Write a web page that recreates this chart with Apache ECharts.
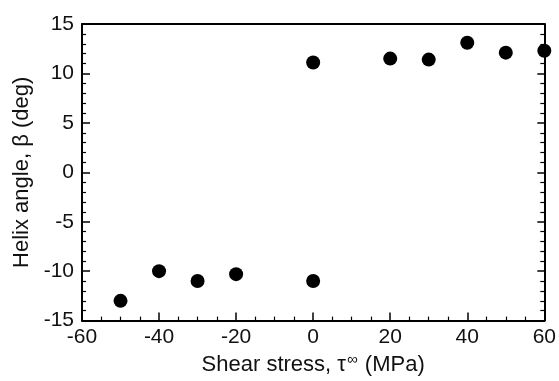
<!DOCTYPE html>
<html>
<head>
<meta charset="utf-8">
<script src="https://cdn.jsdelivr.net/npm/echarts@6/dist/echarts.min.js"></script>
<style>
  html, body { margin: 0; padding: 0; background: #fff; }
  #chart { width: 559px; height: 381px; }
</style>
</head>
<body>
<div id="chart"></div>
<script>
// shear stress (MPa) vs helix angle (deg)
const shearStress = [-50, -40, -30, -20, 0, 0, 20, 30, 40, 50, 60];
const helixAngle = [-13, -10, -11, -10.3, -11, 11.1, 11.5, 11.4, 13.1, 12.1, 12.3];

const points = shearStress.map((x, i) => [x, helixAngle[i]]);

const fontFamily = "'Liberation Sans', Arial, sans-serif";
const ink = "#000";
const textInk = "#111";

const chart = echarts.init(document.getElementById("chart"));
chart.setOption({
  animation: false,
  backgroundColor: "#fff",
  grid: { left: 82, right: 13, top: 24, bottom: 57 },
  xAxis: [
    {
      type: "value",
      min: -60,
      max: 60,
      interval: 20,
      position: "bottom",
      name: "Shear stress, τ{sup|∞} (MPa)",
      nameLocation: "middle",
      nameGap: 30,
      nameTextStyle: {
        color: textInk,
        fontFamily,
        fontSize: 22,
        rich: {
          sup: { fontSize: 15, verticalAlign: "top", padding: [0, 1, 10, 1], color: textInk, fontFamily },
        },
      },
      axisLine: { onZero: false, lineStyle: { color: ink, width: 2 } },
      axisTick: { inside: true, length: 8, lineStyle: { color: ink, width: 1.5 } },
      minorTick: { show: true, splitNumber: 4, length: 4, lineStyle: { color: ink, width: 1.2 } },
      axisLabel: { color: textInk, fontFamily, fontSize: 21, margin: 6 },
      splitLine: { show: false },
    },
    {
      type: "value",
      min: -60,
      max: 60,
      interval: 20,
      position: "top",
      axisLine: { onZero: false, lineStyle: { color: ink, width: 2 } },
      axisTick: { show: false },
      axisLabel: { show: false },
      splitLine: { show: false },
    },
  ],
  yAxis: [
    {
      type: "value",
      min: -15,
      max: 15,
      interval: 5,
      position: "left",
      name: "Helix angle, β (deg)",
      nameLocation: "middle",
      nameGap: 47,
      nameTextStyle: { color: textInk, fontFamily, fontSize: 22 },
      axisLine: { onZero: false, lineStyle: { color: ink, width: 2 } },
      axisTick: { inside: true, length: 8, lineStyle: { color: ink, width: 1.5 } },
      minorTick: { show: true, splitNumber: 5, length: 4, lineStyle: { color: ink, width: 1.2 } },
      axisLabel: { color: textInk, fontFamily, fontSize: 21, margin: 8 },
      splitLine: { show: false },
    },
    {
      type: "value",
      min: -15,
      max: 15,
      interval: 5,
      position: "right",
      axisLine: { onZero: false, lineStyle: { color: ink, width: 2 } },
      axisTick: { inside: true, length: 7, lineStyle: { color: ink, width: 1.5 } },
      minorTick: { show: true, splitNumber: 5, length: 4, lineStyle: { color: ink, width: 1.2 } },
      axisLabel: { show: false },
      splitLine: { show: false },
    },
  ],
  series: [
    {
      type: "scatter",
      data: points,
      symbol: "circle",
      symbolSize: 14,
      clip: false,
      itemStyle: { color: ink, opacity: 1 },
    },
  ],
});
</script>
</body>
</html>
